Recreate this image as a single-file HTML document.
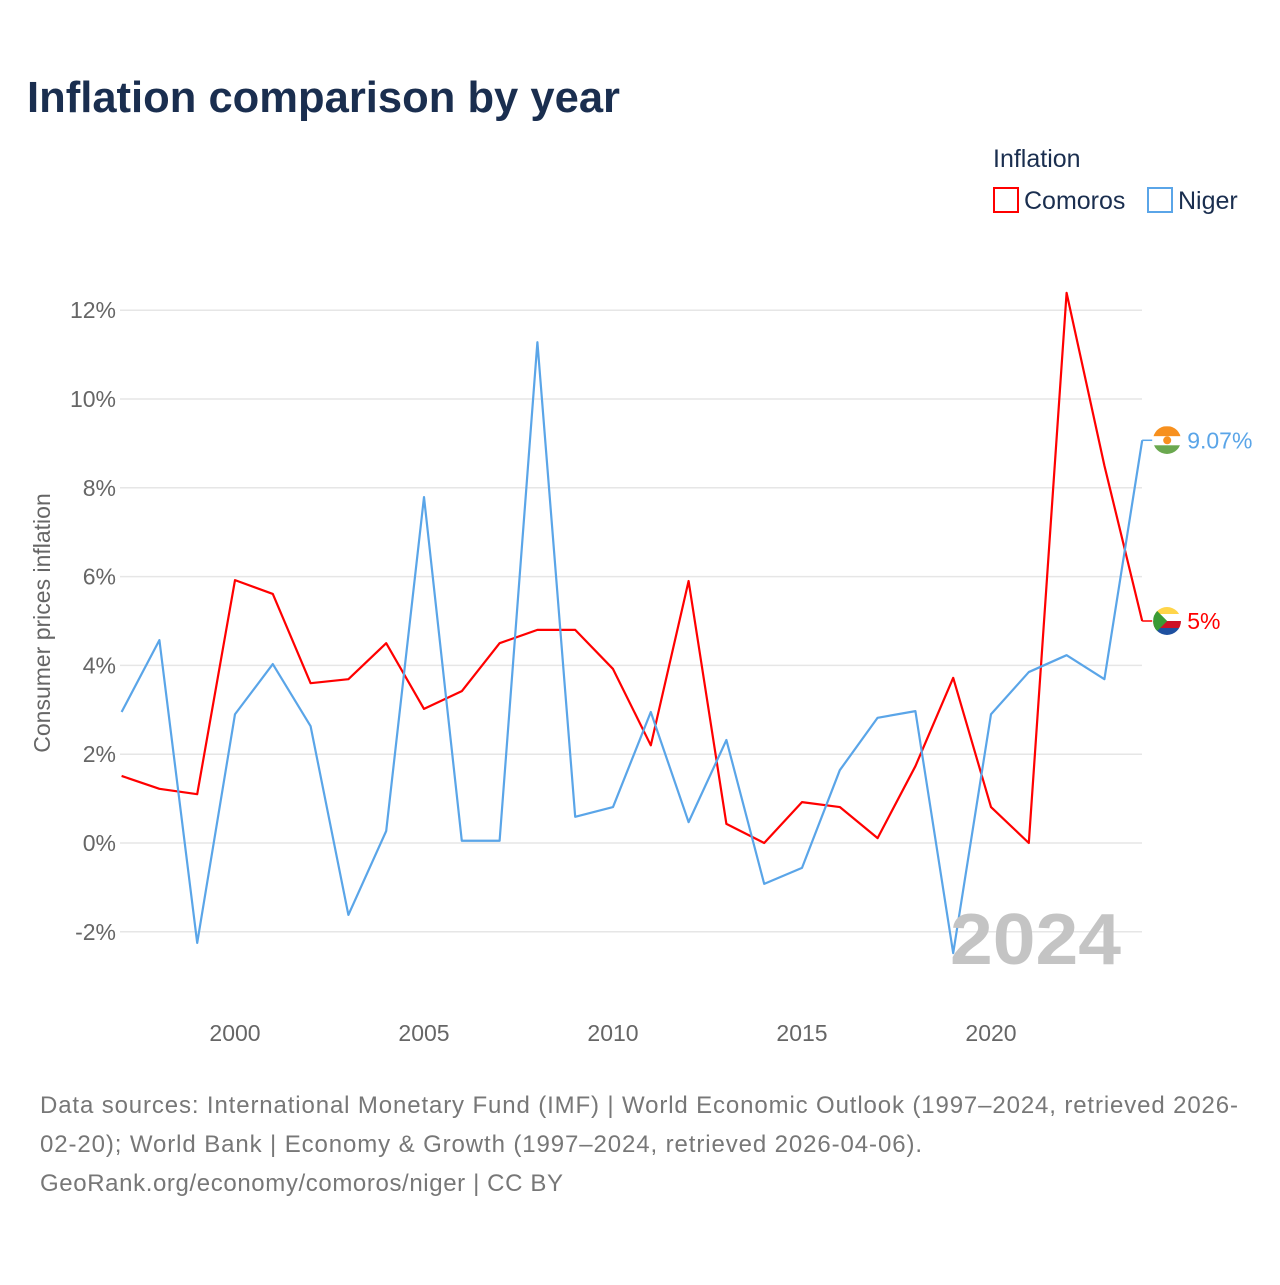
<!DOCTYPE html>
<html><head><meta charset="utf-8"><style>
body{margin:0;background:#fff;font-family:"Liberation Sans",sans-serif;}
svg text{font-family:"Liberation Sans",sans-serif;}
</style></head><body>
<svg id="chart" width="1280" height="1280" xmlns="http://www.w3.org/2000/svg">
<defs><clipPath id="cN"><circle cx="1167" cy="440" r="14"/></clipPath><clipPath id="cC"><circle cx="1167" cy="621" r="14"/></clipPath></defs>
<rect width="1280" height="1280" fill="#fff"/>
<text x="27" y="112" font-size="44" font-weight="bold" fill="#1a2e4f" textLength="593" lengthAdjust="spacingAndGlyphs">Inflation comparison by year</text>
<text x="993" y="167" font-size="25" fill="#1a2e4f">Inflation</text>
<g><rect x="994" y="188" width="24" height="24" fill="none" stroke="#f00" stroke-width="2"/><text x="1024" y="209" font-size="25" fill="#1a2e4f">Comoros</text></g>
<g><rect x="1148" y="188" width="24" height="24" fill="none" stroke="#5aa5e8" stroke-width="2"/><text x="1178" y="209" font-size="25" fill="#1a2e4f">Niger</text></g>
<g id="grid"></g><g id="xaxis"></g><g id="series"></g>
<text transform="translate(50,623) rotate(-90)" text-anchor="middle" font-size="23" fill="#666">Consumer prices inflation</text>
<text x="950" y="964" font-size="72" font-weight="bold" fill="#c4c4c4" textLength="171" lengthAdjust="spacingAndGlyphs">2024</text>
<text font-size="24" fill="#777"><tspan x="40" y="1113" textLength="1198">Data sources: International Monetary Fund (IMF) | World Economic Outlook (1997–2024, retrieved 2026-</tspan><tspan x="40" y="1152" textLength="882">02-20); World Bank | Economy &amp; Growth (1997–2024, retrieved 2026-04-06).</tspan><tspan x="40" y="1191" textLength="523">GeoRank.org/economy/comoros/niger | CC BY</tspan></text>
</svg>
<script>
const years=[1997,1998,1999,2000,2001,2002,2003,2004,2005,2006,2007,2008,2009,2010,2011,2012,2013,2014,2015,2016,2017,2018,2019,2020,2021,2022,2023,2024];
const comoros=[1.51,1.22,1.1,5.92,5.61,3.6,3.69,4.5,3.02,3.42,4.5,4.8,4.8,3.92,2.2,5.9,0.43,0,0.92,0.81,0.11,1.73,3.72,0.81,0,12.39,8.5,5.0];
const niger=[2.95,4.57,-2.25,2.9,4.03,2.63,-1.62,0.27,7.79,0.05,0.05,11.28,0.59,0.81,2.95,0.47,2.32,-0.92,-0.56,1.64,2.82,2.97,-2.48,2.9,3.85,4.23,3.69,9.07];
const yTicks=[-2,0,2,4,6,8,10,12];
const xTicks=[2000,2005,2010,2015,2020];
const NS="http://www.w3.org/2000/svg";
function X(y){return 121.6+(y-1997)*37.8;}
function Y(v){return 843-v*44.4;}
function mk(t,a,p){const e=document.createElementNS(NS,t);for(const k in a)e.setAttribute(k,a[k]);p.appendChild(e);return e;}
const grid=document.getElementById('grid'),xa=document.getElementById('xaxis'),se=document.getElementById('series');
yTicks.forEach(v=>{
 const l=mk('line',{x1:120,x2:1142,y1:Y(v),y2:Y(v),stroke:'#e6e6e6','stroke-width':1.5},grid);
 
 
 const t=mk('text',{x:116,y:Y(v)+8,'text-anchor':'end','font-size':23,fill:'#666'},grid);
 t.textContent=v+'%';
 
 
});
xTicks.forEach(v=>{
 const t=mk('text',{x:X(v),y:1041,'text-anchor':'middle','font-size':23,fill:'#666'},xa);
 t.textContent=v;
 
 
});
function line(vals,col,name){
 const p=mk('polyline',{points:vals.map((v,i)=>X(years[i])+','+Y(v)).join(' '),fill:'none',stroke:col,'stroke-width':2.2,'stroke-linejoin':'round'},se);
 
 
}
line(comoros,'#f00','comoros-line');
line(niger,'#5aa5e8','niger-line');
function endLabel(v,col,name,clip,fl){
 const y=Y(v),x=X(2024);
 const c=mk('line',{x1:x,x2:x+10,y1:y,y2:y,stroke:col,'stroke-width':1.5},se);
 
 
 const g=mk('g',{'clip-path':'url(#'+clip+')'},se);
 
 
 fl(g,x+25,y);
 const t=mk('text',{x:x+45,y:y+8,'font-size':23,fill:col},se);
 t.textContent=(Math.round(v*100)/100)+'%';
 
 
}
endLabel(niger[27],'#5aa5e8','niger','cN',(g,cx,cy)=>{
 mk('rect',{x:cx-14,y:cy-14,width:28,height:10,fill:'#f7901e'},g);
 mk('rect',{x:cx-14,y:cy-4,width:28,height:9,fill:'#fff'},g);
 mk('rect',{x:cx-14,y:cy+5,width:28,height:9,fill:'#6aa84f'},g);
 mk('circle',{cx:cx,cy:cy,r:4,fill:'#f7901e'},g);
});
endLabel(comoros[27],'#f00','comoros','cC',(g,cx,cy)=>{
 mk('rect',{x:cx-14,y:cy-14,width:28,height:7,fill:'#ffd54a'},g);
 mk('rect',{x:cx-14,y:cy-7,width:28,height:7,fill:'#fff'},g);
 mk('rect',{x:cx-14,y:cy,width:28,height:7,fill:'#ce1126'},g);
 mk('rect',{x:cx-14,y:cy+7,width:28,height:7,fill:'#1e50a0'},g);
 mk('polygon',{points:(cx-14)+','+(cy-14)+' '+(cx)+','+cy+' '+(cx-14)+','+(cy+14),fill:'#3a9b35'},g);
});
</script>
</body></html>
